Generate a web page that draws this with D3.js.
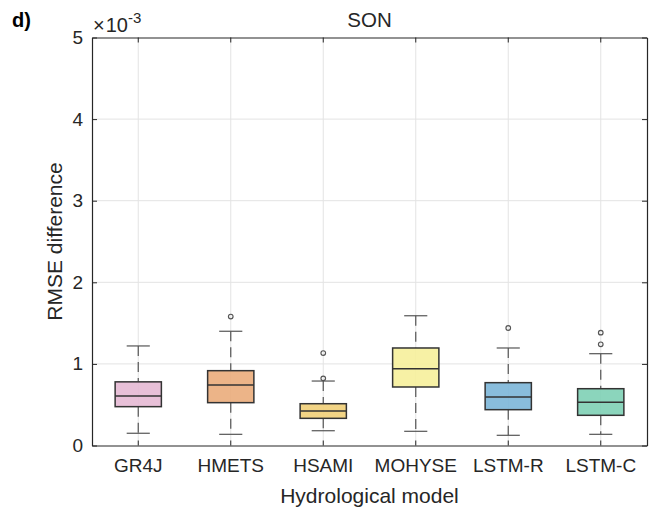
<!DOCTYPE html>
<html>
<head>
<meta charset="utf-8">
<script src="https://cdn.jsdelivr.net/npm/d3@7"></script>
<style>
  body { margin: 0; background: #fff; }
  svg text { font-family: Arial, "Liberation Sans", Helvetica, sans-serif; fill: #262626; }
</style>
</head>
<body>
<div id="chart"></div>
<script>
// box statistics, units of 1e-3
const models = ["GR4J", "HMETS", "HSAMI", "MOHYSE", "LSTM-R", "LSTM-C"];
const lowerWhisker = [0.15, 0.137, 0.181, 0.174, 0.125, 0.137];
const q1 = [0.476, 0.525, 0.333, 0.717, 0.439, 0.370];
const median = [0.607, 0.740, 0.423, 0.940, 0.594, 0.529];
const q3 = [0.780, 0.917, 0.512, 1.195, 0.770, 0.696];
const upperWhisker = [1.22, 1.40, 0.79, 1.59, 1.195, 1.125];
const outliers = [[], [1.58], [1.133, 0.823], [], [1.44], [1.383, 1.24]];
const boxColors = ["#e5b9d4", "#eaac7b", "#f1cf78", "#f6ef9b", "#7cb6d8", "#7ed0b5"];
const yTicks = [0, 1, 2, 3, 4, 5];

const W = 656, H = 512;
const margin = {top: 37.5, right: 9, bottom: 66.5, left: 92};
const width = W - margin.left - margin.right;
const height = H - margin.top - margin.bottom;

const svg = d3.select("#chart").append("svg")
    .attr("width", W)
    .attr("height", H);

const g = svg.append("g")
    .attr("transform", `translate(${margin.left},${margin.top})`);

const x = d3.scaleBand()
    .domain(models)
    .range([0, width]);

const y = d3.scaleLinear()
    .domain([0, 5])
    .range([height, 0]);

// grid
g.append("g").selectAll("line.gy").data(yTicks.slice(1, -1))
    .enter().append("line")
    .attr("x1", 0).attr("x2", width)
    .attr("y1", d => y(d)).attr("y2", d => y(d))
    .attr("stroke", "#e3e3e3").attr("stroke-width", 1);

g.append("g").selectAll("line.gx").data(models)
    .enter().append("line")
    .attr("x1", d => x(d) + x.bandwidth() / 2).attr("x2", d => x(d) + x.bandwidth() / 2)
    .attr("y1", 0).attr("y2", height)
    .attr("stroke", "#e3e3e3").attr("stroke-width", 1);

// axes
const xAxis = g.append("g")
    .attr("transform", `translate(0,${height})`)
    .call(d3.axisBottom(x).tickSize(-5).tickPadding(13).tickSizeOuter(0));
xAxis.selectAll("text").attr("font-size", 19).attr("dy", "0.71em");

const xAxisTop = g.append("g")
    .call(d3.axisTop(x).tickSize(-5).tickFormat("").tickSizeOuter(0));

const yAxis = g.append("g")
    .call(d3.axisLeft(y).tickValues(yTicks).tickFormat(d3.format("d")).tickSize(-5).tickPadding(9).tickSizeOuter(0));
yAxis.selectAll("text").attr("font-size", 19);

const yAxisRight = g.append("g")
    .attr("transform", `translate(${width},0)`)
    .call(d3.axisRight(y).tickValues(yTicks).tickSize(-5).tickFormat("").tickSizeOuter(0));

[xAxis, xAxisTop, yAxis, yAxisRight].forEach(a => {
    a.select(".domain").attr("stroke", "#262626").attr("stroke-width", 1.2);
    a.selectAll(".tick line").attr("stroke", "#262626").attr("stroke-width", 1);
});

// boxes
const bw = x.bandwidth() * 0.5;
const cw = x.bandwidth() * 0.25;

const boxes = g.append("g").selectAll("g.box").data(models)
    .enter().append("g")
    .attr("class", "box")
    .attr("transform", d => `translate(${x(d) + x.bandwidth() / 2},0)`);

// whiskers
boxes.append("line")
    .attr("x1", 0).attr("x2", 0)
    .attr("y1", (d, i) => y(upperWhisker[i])).attr("y2", (d, i) => y(q3[i]))
    .attr("stroke", "#555").attr("stroke-width", 1.2).attr("stroke-dasharray", "10,6");
boxes.append("line")
    .attr("x1", 0).attr("x2", 0)
    .attr("y1", (d, i) => y(q1[i])).attr("y2", (d, i) => y(lowerWhisker[i]))
    .attr("stroke", "#555").attr("stroke-width", 1.2).attr("stroke-dasharray", "10,6");
boxes.append("line")
    .attr("x1", -cw / 2).attr("x2", cw / 2)
    .attr("y1", (d, i) => y(upperWhisker[i])).attr("y2", (d, i) => y(upperWhisker[i]))
    .attr("stroke", "#555").attr("stroke-width", 1.2);
boxes.append("line")
    .attr("x1", -cw / 2).attr("x2", cw / 2)
    .attr("y1", (d, i) => y(lowerWhisker[i])).attr("y2", (d, i) => y(lowerWhisker[i]))
    .attr("stroke", "#555").attr("stroke-width", 1.2);

boxes.append("rect")
    .attr("x", -bw / 2)
    .attr("width", bw)
    .attr("y", (d, i) => y(q3[i]))
    .attr("height", (d, i) => y(q1[i]) - y(q3[i]))
    .attr("fill", (d, i) => boxColors[i])
    .attr("fill-opacity", 0.9)
    .attr("stroke", "#333")
    .attr("stroke-width", 1.5);

boxes.append("line")
    .attr("x1", -bw / 2).attr("x2", bw / 2)
    .attr("y1", (d, i) => y(median[i])).attr("y2", (d, i) => y(median[i]))
    .attr("stroke", "#333").attr("stroke-width", 1.5);

// outliers
boxes.each(function(d, i) {
    d3.select(this).selectAll("circle").data(outliers[i])
        .enter().append("circle")
        .attr("cx", 0)
        .attr("cy", v => y(v))
        .attr("r", 2.3)
        .attr("fill", "none")
        .attr("stroke", "#555")
        .attr("stroke-width", 1.2);
});

// labels
svg.append("text")
    .attr("x", margin.left + width / 2)
    .attr("y", 27)
    .attr("text-anchor", "middle")
    .attr("font-size", 20.5)
    .text("SON");

svg.append("text")
    .attr("x", 12)
    .attr("y", 27)
    .attr("font-size", 20)
    .attr("font-weight", "bold")
    .style("fill", "#000")
    .text("d)");

const expo = svg.append("text")
    .attr("x", 93)
    .attr("y", 32)
    .attr("font-size", 20);
expo.append("tspan").text("\u00d7");
expo.append("tspan").attr("dx", 1).text("10");
expo.append("tspan").attr("font-size", 15).attr("dy", -9).text("-3");

svg.append("text")
    .attr("x", margin.left + width / 2)
    .attr("y", 503)
    .attr("text-anchor", "middle")
    .attr("font-size", 21)
    .text("Hydrological model");

svg.append("text")
    .attr("transform", `translate(61.5,${margin.top + height / 2}) rotate(-90)`)
    .attr("text-anchor", "middle")
    .attr("font-size", 21)
    .text("RMSE difference");
</script>
</body>
</html>
